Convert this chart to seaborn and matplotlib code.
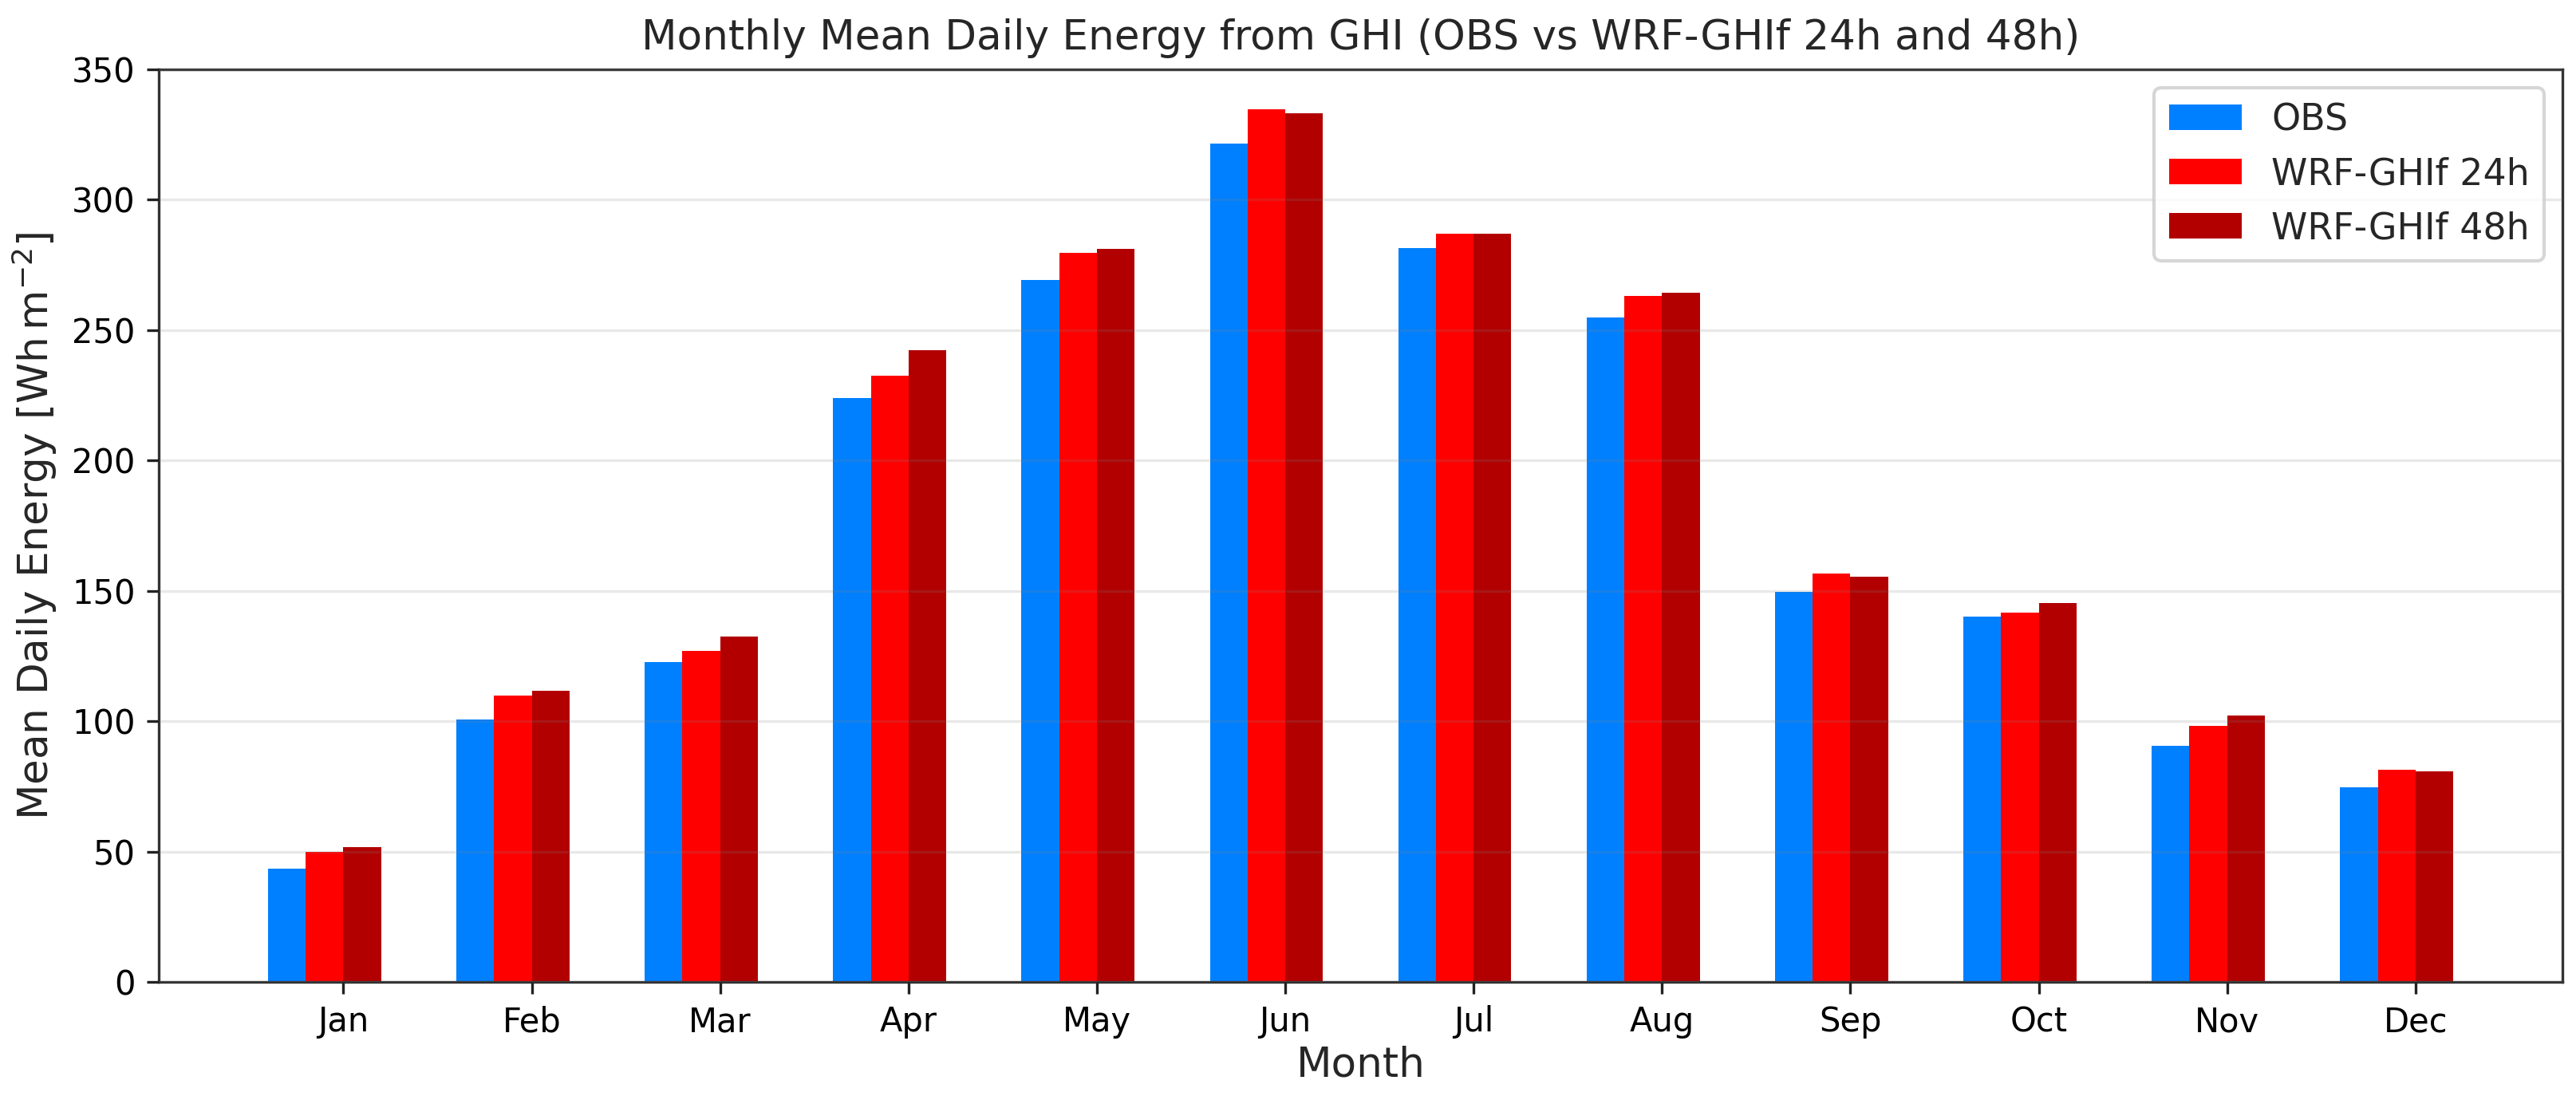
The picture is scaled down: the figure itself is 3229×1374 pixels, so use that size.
import numpy as np
import pandas as pd
import seaborn as sns
import matplotlib.pyplot as plt

# values (Wh m-2)
months = ['Jan', 'Feb', 'Mar', 'Apr', 'May', 'Jun', 'Jul', 'Aug', 'Sep', 'Oct', 'Nov', 'Dec']
obs = [43.3, 100.8, 122.7, 224.1, 269.2, 321.6, 281.6, 254.7, 149.7, 140.0, 90.6, 74.5]
wrf_24h = [50.0, 109.7, 126.9, 232.6, 279.7, 334.7, 287.0, 263.2, 156.6, 141.8, 98.3, 81.5]
wrf_48h = [51.7, 111.8, 132.4, 242.2, 281.1, 333.2, 287.1, 264.2, 155.4, 145.4, 102.1, 80.7]
series_names = ['OBS', 'WRF-GHIf 24h', 'WRF-GHIf 48h']
colors = ['#0080ff', '#ff0000', '#b20000']

# long-form table for seaborn
df = pd.DataFrame({
    'Month': months * 3,
    'Energy': obs + wrf_24h + wrf_48h,
    'Series': np.repeat(series_names, len(months)),
})

sns.set_style('ticks')
plt.rcParams['font.family'] = ['DejaVu Sans']

fig = plt.figure(figsize=(3229 / 300, 1374 / 300), dpi=300)
ax = fig.add_axes([199 / 3229, 1 - 1231 / 1374, (3212 - 199) / 3229, (1231 - 87) / 1374])

sns.barplot(data=df, x='Month', y='Energy', hue='Series', order=months,
            hue_order=series_names, palette=colors, width=0.6, gap=0,
            errorbar=None, linewidth=0, saturation=1, ax=ax)

# month ticks sit on the edge between the 24h and 48h bars, as in the original
ax.set_xticks(np.arange(len(months)) + 0.1)
ax.set_xticklabels(months)
ax.set_xlim(-0.88, 11.88)
ax.set_ylim(0, 350)
ax.set_yticks(range(0, 351, 50))

ax.set_axisbelow(False)
ax.yaxis.grid(True, color='gray', alpha=0.18, linewidth=0.8)
ax.xaxis.grid(False)

for s in ax.spines.values():
    s.set_color('#333333')
    s.set_linewidth(0.8)

ax.tick_params(labelsize=10, colors='#222222', labelcolor='black')
ax.set_title('Monthly Mean Daily Energy from GHI (OBS vs WRF-GHIf 24h and 48h)', fontsize=12.4)
ax.set_xlabel('Month', fontsize=12.4, labelpad=2)
ax.set_ylabel(r'Mean Daily Energy [Wh$\,$m$^{-2}$]', fontsize=12.4)

ax.legend(loc='upper right', fontsize=11, frameon=True)

fig.savefig('out.png', dpi=300)
